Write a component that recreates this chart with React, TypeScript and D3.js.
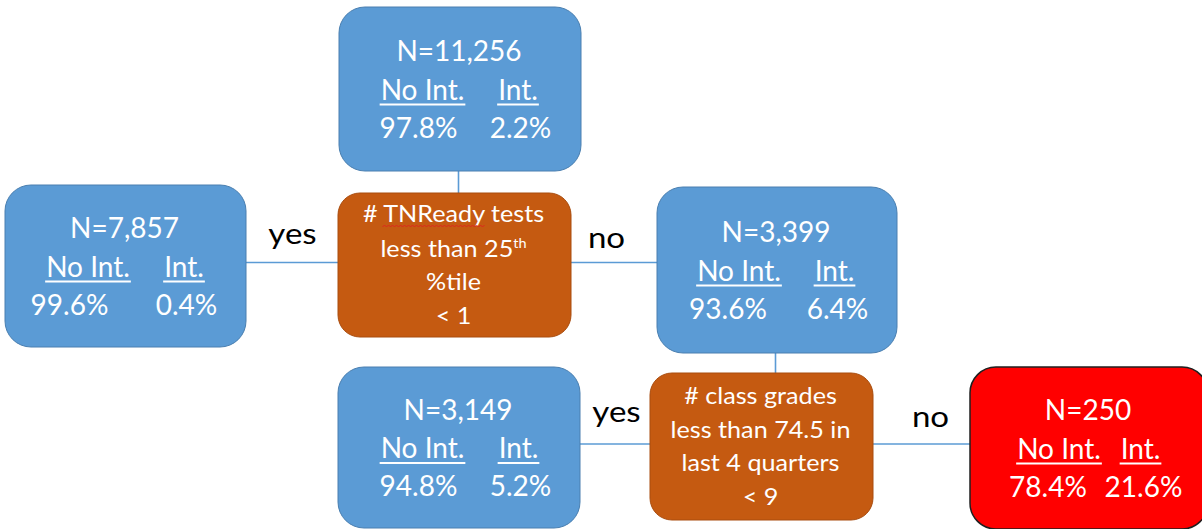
import React, { useEffect, useRef } from "react";
import * as d3 from "d3";

// ---- data ----
const leafIds = ["root", "left", "right", "bottomLeft", "red"];
const leafN = [11256, 7857, 3399, 3149, 250];
const pctNoInt = [97.8, 99.6, 93.6, 94.8, 78.4];
const pctInt = [2.2, 0.4, 6.4, 5.2, 21.6];
const classHeaders = ["No Int.", "Int."];
const splitIds = ["split1", "split2"];
const splitLines = [
  ["# TNReady tests", "less than 25|th", "%tile", "< 1"],
  ["# class grades", "less than 74.5 in", "last 4 quarters", "< 9"],
];
const branchLabels = ["yes", "no", "yes", "no"];

// ---- layout (diagram geometry) ----
type Box = { x: number; y: number; w: number; h: number; r: number; kind: string };
const layout: Record<string, Box> = {
  root: { x: 339, y: 7, w: 242, h: 164, r: 26, kind: "leaf" },
  left: { x: 5, y: 185, w: 241, h: 162, r: 26, kind: "leaf" },
  right: { x: 657, y: 187, w: 240, h: 166, r: 26, kind: "leaf" },
  bottomLeft: { x: 338, y: 367, w: 242, h: 161, r: 26, kind: "leaf" },
  red: { x: 970, y: 367, w: 238, h: 162, r: 26, kind: "alert" },
  split1: { x: 338, y: 193, w: 233, h: 144, r: 22, kind: "split" },
  split2: { x: 650, y: 373, w: 223, h: 147, r: 22, kind: "split" },
};
// column offsets for leaf text
const headerOffsets: Record<string, [number, number]> = {
  root: [-37.5, 58], left: [-37.5, 58.5], right: [-38, 57.5], bottomLeft: [-36.5, 59.5], red: [-30, 51.5],
};
const valueOffsets: Record<string, [number, number]> = {
  root: [-41.5, 60.5], left: [-56, 61], right: [-49, 60.5], bottomLeft: [-40.5, 61.5], red: [-41, 54.5],
};
// edges: [from, to, orientation]
const edges: [string, string, string][] = [
  ["root", "split1", "v"],
  ["left", "split1", "h"],
  ["split1", "right", "h"],
  ["right", "split2", "v"],
  ["bottomLeft", "split2", "h"],
  ["split2", "red", "h"],
];
const labelPos: [number, number][] = [
  [292.5, 244], [606.5, 248], [616.5, 422], [930.5, 427],
];

const FONT = "Lato, 'Noto Sans', sans-serif";
const fillColor: Record<string, string> = { leaf: "#5B9BD5", alert: "#FF0000", split: "#C55A11" };
const strokeColor: Record<string, string> = { leaf: "#4A7FB0", alert: "#202020", split: "#A94C0E" };

export default function App() {
  const ref = useRef<SVGSVGElement>(null);
  useEffect(() => {
    const svg = d3.select(ref.current);
    svg.selectAll("*").remove();
    const fmtN = d3.format(",");
    const fmtP = (v: number) => d3.format(".1f")(v) + "%";

    // edges
    const eg = svg.append("g");
    edges.forEach(([a, b, o]) => {
      const A = layout[a], B = layout[b];
      if (o === "v") {
        const x = A.x + A.w / 2 - 1.5;
        eg.append("line").attr("x1", x).attr("x2", x).attr("y1", A.y + A.h).attr("y2", B.y);
      } else {
        const s = A.kind === "split" ? A : B;
        const y = s.y + s.h / 2 - 2.5;
        const left = A.x < B.x ? A : B, right = A.x < B.x ? B : A;
        eg.append("line").attr("x1", left.x + left.w).attr("x2", right.x).attr("y1", y).attr("y2", y);
      }
    });
    eg.selectAll("line").attr("stroke", "#5B9BD5").attr("stroke-width", 1.6);

    // boxes
    const bg = svg.append("g");
    Object.keys(layout).forEach((k) => {
      const b = layout[k];
      bg.append("rect")
        .attr("x", b.x).attr("y", b.y).attr("width", b.w).attr("height", b.h)
        .attr("rx", b.r).attr("ry", b.r)
        .attr("fill", fillColor[b.kind])
        .attr("stroke", strokeColor[b.kind])
        .attr("stroke-width", b.kind === "alert" ? 1.5 : 1);
    });

    // leaf text
    const tg = svg.append("g").attr("font-family", FONT).attr("fill", "#fff");
    leafIds.forEach((id, i) => {
      const b = layout[id];
      const cx = b.x + b.w / 2, cy = b.y + b.h / 2;
      tg.append("text").attr("x", cx - 1).attr("y", cy - 28).attr("text-anchor", "middle")
        .attr("font-size", 28).text("N=" + fmtN(leafN[i]));
      const ho = headerOffsets[id];
      classHeaders.forEach((h, j) => {
        const t = tg.append("text").attr("x", cx + ho[j]).attr("y", cy + 10.5)
          .attr("text-anchor", "middle").attr("font-size", 28).text(h);
        const len = (t.node() as SVGTextElement).getComputedTextLength();
        tg.append("rect").attr("x", cx + ho[j] - len / 2 - 1).attr("y", cy + 14.5)
          .attr("width", len + 2).attr("height", 2).attr("fill", "#fff");
      });
      const vo = valueOffsets[id];
      [pctNoInt[i], pctInt[i]].forEach((v, j) => {
        tg.append("text").attr("x", cx + vo[j]).attr("y", cy + 48.5)
          .attr("text-anchor", "middle").attr("font-size", 28).text(fmtP(v));
      });
    });

    // split text
    const lineOffsets = [-43, -8.5, 24.5, 58.5];
    splitIds.forEach((id, i) => {
      const b = layout[id];
      const cx = b.x + b.w / 2 - 1, cy = b.y + b.h / 2;
      splitLines[i].forEach((line, j) => {
        const t = tg.append("text")
          .attr("transform", `translate(${cx},${cy + lineOffsets[j]}) scale(1.12,1)`)
          .attr("text-anchor", "middle").attr("font-size", 22.5);
        const [main, sup] = line.split("|");
        t.append("tspan").text(main);
        if (sup) {
          t.append("tspan").attr("font-size", 13).attr("dy", -9).text(sup);
        }
        if (j === 0 && main.includes("TNReady")) {
          // spell-check squiggle under "TNReady"
          const x0 = cx - 71, x1 = cx + 31, y = cy + lineOffsets[j] + 4;
          const pts: [number, number][] = d3.range(x0, x1 + 0.01, 2).map((x, k) => [x, y + (k % 2 ? -1 : 1)]);
          tg.append("path").attr("d", d3.line()(pts)).attr("fill", "none")
            .attr("stroke", "#e02020").attr("stroke-width", 0.9);
        }
      });
    });

    // branch labels
    const lg = svg.append("g").attr("font-family", FONT).attr("fill", "#000");
    branchLabels.forEach((l, i) => {
      lg.append("text")
        .attr("transform", `translate(${labelPos[i][0]},${labelPos[i][1]}) scale(1.14,1)`)
        .attr("text-anchor", "middle").attr("font-size", 29).text(l);
    });
  }, []);

  return (
    <svg ref={ref} width={1202} height={529}
      style={{ position: "absolute", left: 0, top: 0, background: "#fff" }} />
  );
}
